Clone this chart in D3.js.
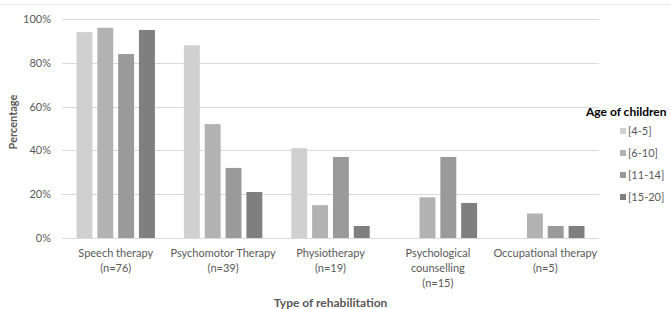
<!DOCTYPE html>
<html><head><meta charset="utf-8">
<script src="https://cdn.jsdelivr.net/npm/d3@7"></script>
<style>body{margin:0;background:#fff}svg{display:block}text{font-family:Lato,"Open Sans",sans-serif}</style>
</head><body>
<script>
const categories = [["Speech therapy","(n=76)"],["Psychomotor Therapy","(n=39)"],["Physiotherapy","(n=19)"],["Psychological","counselling","(n=15)"],["Occupational therapy","(n=5)"]];
const seriesNames = ["[4-5]","[6-10]","[11-14]","[15-20]"];
const s45 = [94, 88, 41, 0, 0];
const s610 = [96, 52, 15, 18.6, 11.2];
const s1114 = [84, 32, 37, 37, 5.5];
const s1520 = [95, 21, 5.5, 16, 5.5];
const yTicks = [0,20,40,60,80,100];
const colors = ["#d0d0d0","#b2b2b2","#9a9a9a","#7f7f7f"];
const series = [s45, s610, s1114, s1520];

const W=671,H=309;
const svg=d3.select("body").append("svg").attr("width",W).attr("height",H);
svg.append("line").attr("x1",0).attr("x2",W).attr("y1",4.5).attr("y2",4.5).attr("stroke","#ececec");
const x0=d3.scaleBand().domain(d3.range(categories.length)).range([62,599]);
const y=d3.scaleLinear().domain([0,100]).range([238,19]);
const x1=d3.scaleBand().domain(d3.range(4)).range([0,78.4]).paddingInner(0.235);
const gx=(i)=>x0(i)+x0.bandwidth()/2-39.2;

svg.append("g").selectAll("line").data(yTicks).join("line")
 .attr("x1",62).attr("x2",599).attr("y1",d=>Math.round(y(d))+0.5).attr("y2",d=>Math.round(y(d))+0.5)
 .attr("stroke","#d9d9d9").attr("stroke-width",1);
svg.append("g").selectAll("text").data(yTicks).join("text")
 .attr("x",51).attr("y",d=>y(d)+4).attr("text-anchor","end").attr("font-size",11).attr("fill","#595959").text(d=>d+"%");

series.forEach((s,si)=>{
 svg.append("g").selectAll("rect").data(s).join("rect")
  .attr("x",(d,i)=>gx(i)+x1(si)).attr("width",x1.bandwidth())
  .attr("y",d=>y(d)).attr("height",d=>y(0)-y(d)).attr("fill",colors[si]);
});

categories.forEach((lines,i)=>{
 const t=svg.append("text").attr("text-anchor","middle").attr("font-size",11).attr("fill","#595959");
 lines.forEach((l,k)=>t.append("tspan").attr("x",x0(i)+x0.bandwidth()/2).attr("y",257+k*15).text(l));
});

svg.append("text").attr("x",330.5).attr("y",307).attr("text-anchor","middle").attr("font-size",12).attr("font-weight","bold").attr("fill","#595959").text("Type of rehabilitation");
svg.append("text").attr("transform","translate(17,122) rotate(-90)").attr("text-anchor","middle").attr("font-size",11).attr("font-weight","bold").attr("fill","#595959").text("Percentage");

svg.append("text").attr("x",586).attr("y",116).attr("font-size",12).attr("font-weight","bold").attr("fill","#000").text("Age of children");
const lg=svg.append("g").selectAll("g").data(seriesNames).join("g").attr("transform",(d,i)=>`translate(620,${131+i*22})`);
lg.append("rect").attr("x",0).attr("y",-3).attr("width",6).attr("height",6).attr("fill",(d,i)=>colors[i]);
lg.append("text").attr("x",8).attr("y",4).attr("font-size",11).attr("fill","#595959").text(d=>d);
</script>
</body></html>
